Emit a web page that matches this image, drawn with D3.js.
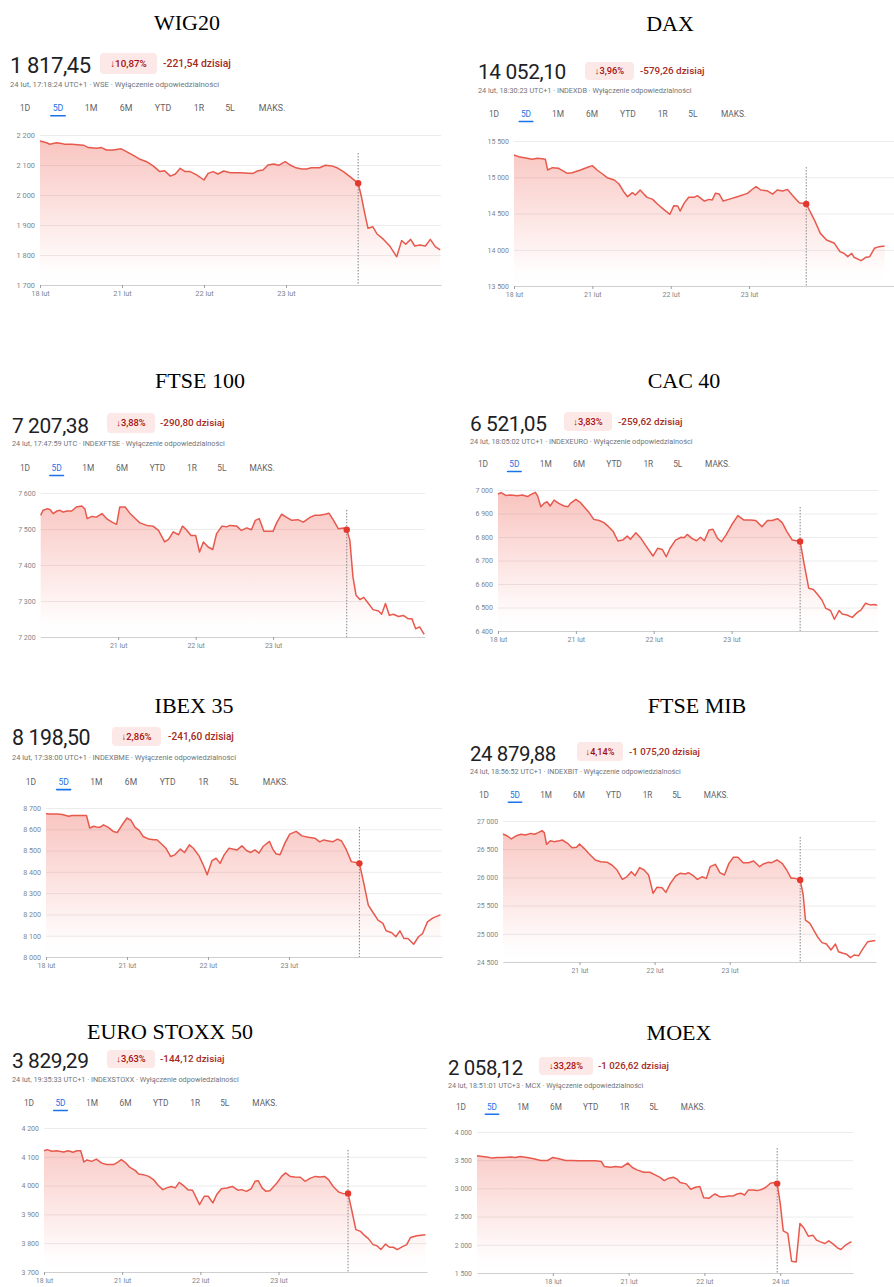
<!DOCTYPE html>
<html>
<head>
<meta charset="utf-8">
<script src="https://cdn.jsdelivr.net/npm/d3@7"></script>
<style>
  body { margin: 0; background: #fff; }
  svg { display: block; }
  .sans { font-family: Roboto, "Noto Sans", Arial, sans-serif; }
</style>
</head>
<body>
<svg id="chart" width="894" height="1287"></svg>
<script>
// ---- DATA: [day since first session, index value] ----
var wig20Series = [[0.00,2180],[0.08,2174],[0.12,2169],[0.20,2174],[0.26,2172],[0.30,2169],[0.39,2169],[0.53,2166],[0.59,2158],[0.69,2156],[0.75,2158],[0.81,2150],[0.89,2150],[0.99,2154],[1.06,2144],[1.14,2132],[1.22,2119],[1.30,2111],[1.38,2097],[1.46,2078],[1.52,2081],[1.59,2063],[1.65,2070],[1.71,2089],[1.77,2078],[1.83,2078],[1.91,2067],[2.00,2050],[2.05,2072],[2.11,2078],[2.17,2070],[2.24,2080],[2.32,2074],[2.44,2074],[2.60,2072],[2.66,2081],[2.72,2083],[2.78,2100],[2.85,2103],[2.91,2099],[2.99,2111],[3.05,2100],[3.11,2092],[3.19,2087],[3.25,2087],[3.31,2091],[3.41,2091],[3.48,2099],[3.56,2097],[3.62,2091],[3.70,2078],[3.78,2061],[3.88,2039],[3.92,1994],[3.96,1939],[4.00,1889],[4.06,1894],[4.11,1870],[4.19,1852],[4.27,1828],[4.35,1794],[4.41,1848],[4.46,1836],[4.52,1852],[4.57,1830],[4.63,1833],[4.70,1830],[4.76,1852],[4.82,1828],[4.88,1817]];

var daxSeries = [[0.00,15307],[0.06,15284],[0.15,15266],[0.23,15247],[0.30,15261],[0.36,15256],[0.40,15247],[0.43,15100],[0.49,15132],[0.57,15123],[0.62,15091],[0.68,15054],[0.74,15063],[0.85,15100],[0.94,15137],[1.00,15160],[1.06,15100],[1.13,15045],[1.19,14994],[1.28,14962],[1.34,14907],[1.40,14801],[1.45,14732],[1.51,14787],[1.55,14755],[1.61,14824],[1.66,14764],[1.70,14723],[1.77,14695],[1.83,14631],[1.91,14557],[1.99,14489],[2.04,14608],[2.09,14603],[2.12,14534],[2.17,14640],[2.23,14723],[2.30,14723],[2.34,14746],[2.43,14672],[2.49,14695],[2.53,14686],[2.57,14778],[2.62,14768],[2.67,14672],[2.74,14695],[2.85,14732],[2.98,14778],[3.03,14824],[3.09,14870],[3.15,14824],[3.23,14815],[3.30,14768],[3.36,14824],[3.43,14810],[3.49,14833],[3.55,14755],[3.64,14649],[3.73,14631],[3.83,14420],[3.91,14226],[3.99,14134],[4.09,14089],[4.16,13974],[4.21,13951],[4.26,13905],[4.31,13951],[4.34,13896],[4.43,13850],[4.49,13896],[4.54,13905],[4.60,14020],[4.66,14043],[4.73,14052]];

var ftseSeries = [[0.00,7538],[0.03,7552],[0.08,7556],[0.12,7554],[0.16,7543],[0.21,7550],[0.25,7552],[0.29,7547],[0.34,7550],[0.40,7550],[0.46,7561],[0.53,7564],[0.57,7556],[0.60,7529],[0.66,7535],[0.72,7533],[0.79,7543],[0.85,7529],[0.92,7519],[0.98,7513],[1.02,7561],[1.09,7561],[1.15,7544],[1.22,7529],[1.28,7517],[1.37,7510],[1.45,7508],[1.52,7496],[1.60,7464],[1.65,7471],[1.71,7492],[1.78,7484],[1.83,7508],[1.88,7498],[1.94,7482],[2.00,7482],[2.05,7436],[2.10,7464],[2.16,7450],[2.22,7443],[2.27,7487],[2.34,7508],[2.40,7506],[2.44,7510],[2.53,7508],[2.59,7496],[2.66,7503],[2.72,7498],[2.77,7524],[2.82,7529],[2.88,7494],[3.00,7494],[3.05,7519],[3.11,7541],[3.17,7533],[3.24,7524],[3.32,7526],[3.39,7519],[3.48,7533],[3.54,7538],[3.60,7538],[3.67,7541],[3.72,7544],[3.78,7524],[3.84,7501],[3.91,7503],[3.95,7498],[3.99,7469],[4.03,7367],[4.07,7316],[4.12,7304],[4.17,7310],[4.23,7293],[4.29,7276],[4.36,7272],[4.40,7263],[4.45,7293],[4.50,7260],[4.55,7263],[4.62,7257],[4.68,7260],[4.74,7251],[4.79,7251],[4.84,7223],[4.89,7228],[4.95,7207]];

var cacSeries = [[0.00,6983],[0.04,6989],[0.10,6977],[0.16,6979],[0.25,6976],[0.31,6979],[0.38,6972],[0.42,6980],[0.48,6990],[0.51,6974],[0.55,6929],[0.59,6943],[0.63,6950],[0.67,6932],[0.72,6957],[0.78,6943],[0.85,6932],[0.90,6929],[0.93,6943],[1.00,6960],[1.06,6946],[1.13,6919],[1.17,6904],[1.23,6875],[1.30,6870],[1.36,6861],[1.42,6844],[1.48,6823],[1.54,6783],[1.60,6787],[1.66,6804],[1.70,6790],[1.77,6818],[1.83,6797],[1.90,6762],[1.99,6719],[2.05,6752],[2.11,6747],[2.16,6716],[2.21,6752],[2.28,6787],[2.35,6799],[2.39,6797],[2.43,6811],[2.49,6794],[2.55,6784],[2.60,6799],[2.65,6784],[2.71,6830],[2.76,6833],[2.82,6794],[2.87,6780],[2.93,6809],[3.00,6851],[3.08,6891],[3.16,6872],[3.24,6872],[3.31,6870],[3.39,6844],[3.46,6870],[3.52,6870],[3.59,6878],[3.65,6861],[3.71,6823],[3.78,6787],[3.88,6781],[3.93,6688],[3.99,6582],[4.05,6577],[4.11,6553],[4.16,6532],[4.21,6496],[4.27,6487],[4.32,6450],[4.38,6487],[4.42,6472],[4.48,6468],[4.55,6458],[4.61,6478],[4.66,6489],[4.72,6518],[4.78,6511],[4.83,6513],[4.87,6510]];

var ibexSeries = [[0.00,8673],[0.05,8672],[0.14,8672],[0.20,8669],[0.28,8661],[0.32,8665],[0.38,8665],[0.44,8665],[0.50,8665],[0.54,8606],[0.59,8614],[0.64,8609],[0.67,8610],[0.71,8621],[0.77,8609],[0.83,8590],[0.88,8585],[0.94,8621],[1.00,8653],[1.05,8642],[1.10,8609],[1.15,8595],[1.20,8566],[1.27,8554],[1.33,8551],[1.37,8551],[1.43,8530],[1.48,8511],[1.54,8472],[1.59,8480],[1.66,8507],[1.71,8491],[1.77,8527],[1.82,8511],[1.89,8475],[1.95,8425],[1.99,8386],[2.05,8453],[2.10,8464],[2.15,8440],[2.20,8480],[2.26,8511],[2.36,8503],[2.42,8522],[2.48,8499],[2.53,8491],[2.58,8503],[2.63,8488],[2.68,8519],[2.76,8543],[2.80,8507],[2.84,8485],[2.89,8480],[2.95,8535],[3.01,8577],[3.09,8590],[3.16,8569],[3.24,8563],[3.32,8558],[3.38,8541],[3.43,8550],[3.49,8545],[3.54,8541],[3.60,8554],[3.65,8545],[3.71,8503],[3.77,8448],[3.87,8440],[3.92,8354],[3.98,8244],[4.04,8208],[4.10,8173],[4.16,8158],[4.20,8123],[4.27,8114],[4.32,8095],[4.37,8123],[4.42,8087],[4.47,8087],[4.54,8060],[4.60,8095],[4.65,8110],[4.71,8165],[4.78,8184],[4.87,8198]];

var mibSeries = [[-0.02,26770],[0.04,26734],[0.09,26681],[0.15,26734],[0.22,26764],[0.28,26752],[0.35,26781],[0.40,26764],[0.45,26793],[0.50,26829],[0.53,26793],[0.56,26586],[0.61,26651],[0.66,26634],[0.73,26651],[0.77,26663],[0.84,26604],[0.90,26527],[0.96,26533],[1.00,26592],[1.06,26515],[1.12,26427],[1.21,26309],[1.28,26279],[1.37,26267],[1.43,26220],[1.50,26131],[1.57,25966],[1.63,26011],[1.69,26102],[1.74,26031],[1.80,26173],[1.86,26131],[1.92,26043],[1.98,25717],[2.03,25824],[2.10,25818],[2.15,25735],[2.21,25895],[2.28,26025],[2.34,26072],[2.41,26060],[2.45,26084],[2.52,26025],[2.57,25966],[2.63,26011],[2.69,25983],[2.74,26190],[2.81,26232],[2.87,26084],[2.93,26043],[2.99,26249],[3.05,26356],[3.11,26356],[3.18,26261],[3.25,26261],[3.32,26291],[3.40,26190],[3.45,26238],[3.51,26267],[3.56,26261],[3.63,26309],[3.70,26249],[3.76,26131],[3.82,25983],[3.87,25983],[3.94,25955],[3.98,25688],[4.01,25244],[4.07,25186],[4.12,25067],[4.17,24949],[4.23,24843],[4.29,24819],[4.35,24713],[4.41,24819],[4.45,24683],[4.51,24654],[4.56,24636],[4.61,24577],[4.66,24624],[4.72,24612],[4.77,24725],[4.84,24861],[4.94,24880]];

var euroSeries = [[0.00,4121],[0.04,4125],[0.10,4119],[0.16,4121],[0.25,4117],[0.31,4121],[0.37,4116],[0.42,4121],[0.47,4121],[0.51,4082],[0.55,4089],[0.61,4084],[0.67,4092],[0.74,4078],[0.80,4073],[0.89,4073],[0.94,4081],[0.99,4090],[1.05,4078],[1.10,4063],[1.17,4052],[1.21,4040],[1.27,4038],[1.34,4032],[1.40,4021],[1.46,4001],[1.52,3986],[1.57,3992],[1.63,3997],[1.68,3992],[1.73,4011],[1.78,4001],[1.84,3986],[1.90,3984],[1.99,3934],[2.05,3963],[2.10,3963],[2.16,3940],[2.21,3969],[2.27,3989],[2.34,3992],[2.41,3997],[2.48,3984],[2.53,3986],[2.59,3980],[2.65,3989],[2.70,4015],[2.74,4017],[2.79,3992],[2.84,3980],[2.89,3982],[2.98,4009],[3.04,4032],[3.09,4044],[3.15,4032],[3.21,4030],[3.28,4029],[3.34,4015],[3.41,4026],[3.47,4032],[3.53,4030],[3.59,4032],[3.64,4021],[3.70,3997],[3.77,3978],[3.83,3972],[3.89,3973],[3.94,3911],[3.99,3847],[4.05,3841],[4.10,3827],[4.15,3816],[4.21,3795],[4.26,3791],[4.31,3778],[4.37,3797],[4.42,3786],[4.47,3786],[4.52,3778],[4.58,3787],[4.64,3795],[4.69,3820],[4.77,3826],[4.88,3829]];

// MOEX starts one session earlier (17 lut) and has no 23 lut session
var moexSeries = [[0.00,3578],[0.07,3567],[0.13,3555],[0.20,3537],[0.27,3549],[0.35,3549],[0.44,3555],[0.51,3549],[0.57,3567],[0.66,3549],[0.75,3525],[0.84,3495],[0.93,3495],[1.00,3549],[1.08,3525],[1.17,3495],[1.25,3495],[1.34,3489],[1.45,3489],[1.56,3489],[1.64,3477],[1.68,3388],[1.76,3376],[1.83,3388],[1.91,3376],[1.99,3448],[2.05,3371],[2.11,3329],[2.20,3287],[2.28,3287],[2.35,3240],[2.42,3192],[2.47,3139],[2.53,3181],[2.59,3198],[2.64,3163],[2.68,3103],[2.76,3080],[2.82,2985],[2.88,3020],[2.94,3032],[2.99,2836],[3.06,2824],[3.10,2866],[3.14,2901],[3.20,2854],[3.26,2854],[3.32,2866],[3.38,2866],[3.43,2901],[3.48,2913],[3.53,2884],[3.58,2973],[3.64,2973],[3.70,2961],[3.76,2985],[3.81,3020],[3.87,3091],[3.92,3103],[3.96,3085],[4.00,2735],[4.04,2248],[4.10,2201],[4.15,1708],[4.21,1696],[4.26,2379],[4.31,2302],[4.37,2153],[4.43,2171],[4.48,2082],[4.53,2052],[4.59,2023],[4.64,2070],[4.70,2011],[4.75,1951],[4.80,1916],[4.86,1993],[4.94,2058]];

// y tick values
var wig20Ticks = [1700, 1800, 1900, 2000, 2100, 2200];
var daxTicks = [13500, 14000, 14500, 15000, 15500];
var ftseTicks = [7200, 7300, 7400, 7500, 7600];
var cacTicks = [6400, 6500, 6600, 6700, 6800, 6900, 7000];
var ibexTicks = [8000, 8100, 8200, 8300, 8400, 8500, 8600, 8700];
var mibTicks = [24500, 25000, 25500, 26000, 26500, 27000];
var euroTicks = [3700, 3800, 3900, 4000, 4100, 4200];
var moexTicks = [1500, 2000, 2500, 3000, 3500, 4000];

// x tick labels
var dayLabels = ["18 lut", "21 lut", "22 lut", "23 lut"];
var lateDayLabels = ["21 lut", "22 lut", "23 lut"];
var moexDayLabels = ["18 lut", "21 lut", "22 lut", "24 lut"];
var tabLabels = ["1D", "5D", "1M", "6M", "YTD", "1R", "5L", "MAKS."];

var disclaimer = " · Wyłączenie odpowiedzialności";

// ---- PANELS (text + layout on the page) ----
var panels = [
    { title: "WIG20", price: "1 817,45", pct: "↓10,87%", change: "-221,54 dzisiaj",
      meta: "24 lut, 17:18:24 UTC+1 · WSE" + disclaimer,
      series: wig20Series, yTicks: wig20Ticks, xTicks: [0, 1, 2, 3], xLabels: dayLabels,
      prevDay: 3.88, prevClose: 2039, dashTop: 2140,
      L: { k: 1, titleX: 187, titleY: 30, priceX: 10, priceY: 73, badgeX: 100, badgeY: 53, badgeW: 57, badgeH: 21,
           changeX: 163, metaY: 87, tabX: 25, tabY: 108, tabS: 1, left: 40, right: 441, top: 135, bottom: 285, d0: 0, d1: 4.89 } },
    { title: "DAX", price: "14 052,10", pct: "↓3,96%", change: "-579,26 dzisiaj",
      meta: "24 lut, 18:30:23 UTC+1 · INDEXDB" + disclaimer,
      series: daxSeries, yTicks: daxTicks, xTicks: [0, 1, 2, 3], xLabels: dayLabels,
      prevDay: 3.73, prevClose: 14631, dashTop: 15140,
      L: { k: 0.95, titleX: 670, titleY: 31, priceX: 478, priceY: 79, badgeX: 585, badgeY: 62, badgeW: 49, badgeH: 18,
           changeX: 640, metaY: 93, tabX: 494, tabY: 114, tabS: 0.97, left: 514, right: 894, top: 141, bottom: 286, d0: 0, d1: 4.85 } },
    { title: "FTSE 100", price: "7 207,38", pct: "↓3,88%", change: "-290,80 dzisiaj",
      meta: "24 lut, 17:47:59 UTC · INDEXFTSE" + disclaimer,
      series: ftseSeries, yTicks: ftseTicks, xTicks: [1, 2, 3], xLabels: lateDayLabels,
      prevDay: 3.95, prevClose: 7498, dashTop: 7553,
      L: { k: 0.95, titleX: 200, titleY: 388, priceX: 12, priceY: 433, badgeX: 107, badgeY: 413, badgeW: 48, badgeH: 20,
           changeX: 160, metaY: 446, tabX: 25, tabY: 468, tabS: 0.96, left: 40.7, right: 425, top: 493, bottom: 637, d0: 0, d1: 4.96 } },
    { title: "CAC 40", price: "6 521,05", pct: "↓3,83%", change: "-259,62 dzisiaj",
      meta: "24 lut, 18:05:02 UTC+1 · INDEXEURO" + disclaimer,
      series: cacSeries, yTicks: cacTicks, xTicks: [0, 1, 2, 3], xLabels: dayLabels,
      prevDay: 3.88, prevClose: 6781, dashTop: 6928,
      L: { k: 0.95, titleX: 684, titleY: 388, priceX: 470, priceY: 431, badgeX: 564, badgeY: 412, badgeW: 48, badgeH: 19,
           changeX: 618, metaY: 444, tabX: 483, tabY: 464, tabS: 0.95, left: 498, right: 878, top: 490, bottom: 631, d0: 0, d1: 4.88 } },
    { title: "IBEX 35", price: "8 198,50", pct: "↓2,86%", change: "-241,60 dzisiaj",
      meta: "24 lut, 17:38:00 UTC+1 · INDEXBME" + disclaimer,
      series: ibexSeries, yTicks: ibexTicks, xTicks: [0, 1, 2, 3], xLabels: dayLabels,
      prevDay: 3.87, prevClose: 8440, dashTop: 8611,
      L: { k: 0.97, titleX: 194, titleY: 713, priceX: 12, priceY: 745, badgeX: 112, badgeY: 727, badgeW: 49, badgeH: 19,
           changeX: 168, metaY: 760, tabX: 31, tabY: 782, tabS: 0.99, left: 46, right: 442, top: 808, bottom: 957, d0: 0, d1: 4.89 } },
    { title: "FTSE MIB", price: "24 879,88", pct: "↓4,14%", change: "-1 075,20 dzisiaj",
      meta: "24 lut, 18:56:52 UTC+1 · INDEXBIT" + disclaimer,
      series: mibSeries, yTicks: mibTicks, xTicks: [1, 2, 3], xLabels: lateDayLabels,
      prevDay: 3.94, prevClose: 25955, dashTop: 26716,
      L: { k: 0.93, titleX: 697, titleY: 713, priceX: 470, priceY: 761, badgeX: 577, badgeY: 742, badgeW: 46, badgeH: 19,
           changeX: 629, metaY: 774, tabX: 484, tabY: 795, tabS: 0.94, left: 503, right: 876, top: 821, bottom: 962, d0: -0.02, d1: 4.95 } },
    { title: "EURO STOXX 50", price: "3 829,29", pct: "↓3,63%", change: "-144,12 dzisiaj",
      meta: "24 lut, 19:35:33 UTC+1 · INDEXSTOXX" + disclaimer,
      series: euroSeries, yTicks: euroTicks, xTicks: [0, 1, 2, 3], xLabels: dayLabels,
      prevDay: 3.89, prevClose: 3973, dashTop: 4124,
      L: { k: 0.95, titleX: 170, titleY: 1039, priceX: 12, priceY: 1068, badgeX: 107, badgeY: 1050, badgeW: 48, badgeH: 18,
           changeX: 160, metaY: 1082, tabX: 29, tabY: 1103, tabS: 0.955, left: 44, right: 427, top: 1128, bottom: 1272, d0: 0, d1: 4.90 } },
    { title: "MOEX", price: "2 058,12", pct: "↓33,28%", change: "-1 026,62 dzisiaj",
      meta: "24 lut, 18:51:01 UTC+3 · MCX" + disclaimer,
      series: moexSeries, yTicks: moexTicks, xTicks: [1, 2, 3, 4], xLabels: moexDayLabels,
      prevDay: 3.96, prevClose: 3085, dashTop: 3716,
      L: { k: 0.93, titleX: 679, titleY: 1040, priceX: 448, priceY: 1075, badgeX: 539, badgeY: 1057, badgeW: 54, badgeH: 18,
           changeX: 598, metaY: 1088, tabX: 461, tabY: 1107, tabS: 0.94, left: 477, right: 853, top: 1132, bottom: 1273, d0: 0, d1: 4.96 } }
];

var tabOffsets = [0, 33, 66, 101, 138, 174, 205, 247];

var plLocale = d3.formatLocale( { decimal: ",", thousands: "\u00a0", grouping: [ 3 ], currency: [ "", "" ] } );
var fmt = plLocale.format( "," );

var svg = d3.select( "#chart" );
var defs = svg.append( "defs" );

panels.forEach( drawPanel );

function drawPanel( p, idx ) {
    var L = p.L, k = L.k;
    var g = svg.append( "g" );

    // title above each screenshot
    g.append( "text" )
        .attr( "x", L.titleX ).attr( "y", L.titleY )
        .attr( "text-anchor", "middle" )
        .style( "font-family", "'Liberation Serif', 'Times New Roman', serif" )
        .style( "font-size", "22px" )
        .attr( "fill", "#000" )
        .text( p.title );

    // header: price, badge, change, meta line
    g.append( "text" ).attr( "class", "sans" )
        .attr( "x", L.priceX ).attr( "y", L.priceY )
        .style( "font-size", ( 22 * k ) + "px" )
        .style( "letter-spacing", "-0.4px" )
        .attr( "fill", "#202124" )
        .text( p.price );

    g.append( "rect" )
        .attr( "x", L.badgeX ).attr( "y", L.badgeY )
        .attr( "width", L.badgeW ).attr( "height", L.badgeH )
        .attr( "rx", 4 )
        .attr( "fill", "#fce8e6" );
    g.append( "text" ).attr( "class", "sans" )
        .attr( "x", L.badgeX + L.badgeW / 2 ).attr( "y", L.badgeY + L.badgeH / 2 )
        .attr( "dy", "0.35em" ).attr( "text-anchor", "middle" )
        .style( "font-size", ( 9.8 * k ) + "px" ).style( "font-weight", 500 )
        .attr( "fill", "#a50e0e" )
        .text( p.pct );

    g.append( "text" ).attr( "class", "sans" )
        .attr( "x", L.changeX ).attr( "y", L.badgeY + L.badgeH / 2 )
        .attr( "dy", "0.35em" )
        .style( "font-size", ( 10.4 * k ) + "px" ).style( "font-weight", 500 )
        .attr( "fill", "#a52a22" )
        .text( p.change );

    g.append( "text" ).attr( "class", "sans" )
        .attr( "x", L.priceX ).attr( "y", L.metaY )
        .style( "font-size", ( 7.7 * k ) + "px" )
        .attr( "fill", "#70757a" )
        .text( p.meta );

    // range tabs
    var tabs = g.append( "g" ).attr( "class", "sans" );
    tabLabels.forEach( function ( t, i ) {
        var tx = L.tabX + tabOffsets[ i ] * L.tabS;
        tabs.append( "text" )
            .attr( "x", tx ).attr( "y", L.tabY ).attr( "dy", "0.35em" )
            .attr( "text-anchor", "middle" )
            .style( "font-size", ( 8.8 * k ) + "px" )
            .attr( "fill", i === 1 ? "#1a73e8" : "#5f6368" )
            .text( t );
        if ( i === 1 ) {
            tabs.append( "rect" )
                .attr( "x", tx - 8 * k ).attr( "y", L.tabY + 7 * k )
                .attr( "width", 16 * k ).attr( "height", 1.6 )
                .attr( "rx", 0.8 )
                .attr( "fill", "#1a73e8" );
        }
    } );

    // scales
    var x = d3.scaleLinear().domain( [ L.d0, L.d1 ] ).range( [ L.left, L.right ] );
    var y = d3.scaleLinear()
        .domain( [ p.yTicks[ 0 ], p.yTicks[ p.yTicks.length - 1 ] ] )
        .range( [ L.bottom, L.top ] );

    // horizontal grid + y labels
    var grid = g.append( "g" ).attr( "class", "sans" )
        .attr( "transform", "translate(" + L.left + ",0)" )
        .call( d3.axisLeft( y ).tickValues( p.yTicks ).tickSize( -( L.right - L.left ) ).tickPadding( 5 ).tickFormat( fmt ) );
    grid.select( ".domain" ).remove();
    grid.selectAll( "line" ).attr( "stroke", "#ececec" );
    grid.selectAll( "text" ).attr( "fill", "#80868b" ).style( "font-size", ( 7.4 * k ) + "px" ).style( "font-family", null );

    // gradient fill under the line
    var gid = "fade" + idx;
    var grad = defs.append( "linearGradient" ).attr( "id", gid )
        .attr( "gradientUnits", "userSpaceOnUse" )
        .attr( "x1", 0 ).attr( "x2", 0 ).attr( "y1", L.top ).attr( "y2", L.bottom );
    grad.append( "stop" ).attr( "offset", 0 ).attr( "stop-color", "#ea4335" ).attr( "stop-opacity", 0.32 );
    grad.append( "stop" ).attr( "offset", 0.9 ).attr( "stop-color", "#ea4335" ).attr( "stop-opacity", 0.01 );
    grad.append( "stop" ).attr( "offset", 1 ).attr( "stop-color", "#ea4335" ).attr( "stop-opacity", 0 );

    var area = d3.area()
        .x( function ( d ) { return x( d[ 0 ] ); } )
        .y0( L.bottom )
        .y1( function ( d ) { return y( d[ 1 ] ); } );
    g.append( "path" ).datum( p.series )
        .attr( "d", area )
        .attr( "fill", "url(#" + gid + ")" );

    // x axis
    var xa = g.append( "g" ).attr( "class", "sans" )
        .attr( "transform", "translate(0," + L.bottom + ")" )
        .call( d3.axisBottom( x ).tickValues( p.xTicks )
            .tickFormat( function ( d, i ) { return p.xLabels[ i ]; } )
            .tickSize( 3 ).tickSizeOuter( 0 ).tickPadding( 3 ) );
    xa.select( ".domain" ).attr( "stroke", "#cfcfcf" );
    xa.selectAll( "line" ).attr( "stroke", "#9aa0a6" );
    xa.selectAll( "text" ).attr( "fill", "#80868b" ).style( "font-size", ( 7.4 * k ) + "px" ).style( "font-family", null );

    // previous close marker
    g.append( "line" )
        .attr( "x1", x( p.prevDay ) ).attr( "x2", x( p.prevDay ) )
        .attr( "y1", y( p.dashTop ) ).attr( "y2", L.bottom )
        .attr( "stroke", "#80868b" ).attr( "stroke-width", 1 )
        .attr( "stroke-dasharray", "1.5,1.5" );

    var line = d3.line()
        .x( function ( d ) { return x( d[ 0 ] ); } )
        .y( function ( d ) { return y( d[ 1 ] ); } );
    g.append( "path" ).datum( p.series )
        .attr( "d", line )
        .attr( "fill", "none" )
        .attr( "stroke", "#e8594d" )
        .attr( "stroke-width", 1.5 )
        .attr( "stroke-linejoin", "round" );

    g.append( "circle" )
        .attr( "cx", x( p.prevDay ) ).attr( "cy", y( p.prevClose ) )
        .attr( "r", 3.2 )
        .attr( "fill", "#e2382d" );
}
</script>
</body>
</html>
